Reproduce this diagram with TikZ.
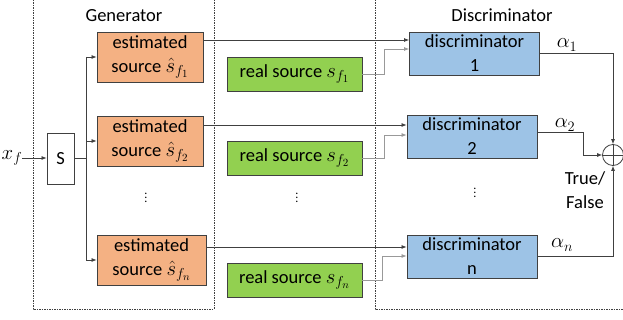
\documentclass[tikz,border=0pt]{standalone}
\usepackage{fontspec}
\setmainfont{Carlito}
\usetikzlibrary{arrows.meta}
\definecolor{ofill}{HTML}{F4B183}
\definecolor{gfill}{HTML}{92D050}
\definecolor{bfill}{HTML}{9DC3E6}
\definecolor{lcol}{HTML}{404040}
\newcommand{\mathbig}[1]{{\fontsize{21}{24}\selectfont$#1$}}
\begin{document}
\begin{tikzpicture}[x=1pt,y=-1pt,
  font=\fontsize{18.5}{24}\selectfont,
  box/.style={draw=lcol, line width=0.9pt, align=center, inner sep=0pt},
  obox/.style={box, fill=ofill, minimum width=106pt, minimum height=50pt},
  gbox/.style={box, fill=gfill, minimum width=135pt, minimum height=34pt},
  dbox/.style={box, fill=bfill, minimum width=130pt, minimum height=43pt},
  arr/.style={-{Latex[length=5pt,width=4pt]}, draw=lcol, line width=0.7pt},
  larr/.style={arr, draw=gray!80},
  grp/.style={draw=lcol, line width=0.6pt, dash pattern=on 1.5pt off 1pt},
  lbl/.style={inner sep=0pt}]
\useasboundingbox (0,0) rectangle (623,320);
% group frames
\draw[grp] (33,-5) rectangle (214,309);
\draw[grp] (375,-5) rectangle (630,309);
\node[lbl] (gen) at (124,16) {Generator};
\node[lbl] (dis) at (502,15) {Discriminator};
% input and splitter
\node[lbl] (x) at (12,158) {\mathbig{x_f}};
\node[box, minimum width=27pt, minimum height=51pt] (S) at (60.5,158.5) {S};
\coordinate (sp) at (86,158);
% estimated sources
\node[obox] (e1) at (150,57) {estimated\\source \mathbig{\hat{s}_{f_1}}};
\node[obox] (e2) at (150,141) {estimated\\source \mathbig{\hat{s}_{f_2}}};
\node[obox, minimum width=109pt] (en) at (151.5,260) {estimated\\source \mathbig{\hat{s}_{f_n}}};
% real sources
\node[gbox] (r1) at (294.5,74) {real source \mathbig{s_{f_1}}};
\node[gbox] (r2) at (294.5,158) {real source \mathbig{s_{f_2}}};
\node[gbox] (rn) at (294.5,280) {real source \mathbig{s_{f_n}}};
% discriminators
\node[dbox] (d1) at (474.5,53.5) {discriminator\\1};
\node[dbox] (d2) at (472,136.5) {discriminator\\2};
\node[dbox] (dn) at (472,256.5) {discriminator\\n};
% dots
\node[lbl, font=\fontsize{12}{14}\selectfont] (v1) at (146,195) {$\vdots$};
\node[lbl, font=\fontsize{12}{14}\selectfont] (v2) at (297,195) {$\vdots$};
\node[lbl, font=\fontsize{12}{14}\selectfont] (v3) at (475,190) {$\vdots$};
% sum
\node[draw=lcol, line width=0.8pt, circle, minimum size=21pt, inner sep=0pt] (sum) at (613,155) {};
\draw[lcol, line width=0.8pt] (sum.north) -- (sum.south) (sum.west) -- (sum.east);
% connections: input
\draw[arr] (x) -- (S.west |- x);
\draw[draw=lcol, line width=0.7pt] (S.east |- sp) -- (sp);
\draw[draw=lcol, line width=0.7pt] (sp |- e1.west) -- (sp |- en.west);
\draw[arr] (sp |- e1.west) -- (e1.west);
\draw[arr] (sp |- e2.west) -- (e2.west);
\draw[arr] (sp |- en.west) -- (en.west);
% estimated -> discriminators
\draw[arr] (e1.east |- 0,40) -- (d1.west |- 0,40);
\draw[arr] (e2.east |- 0,125) -- (d2.west |- 0,125);
\draw[arr] (en.east |- 0,247) -- (dn.west |- 0,247);
% real -> discriminators
\draw[larr] (r1.east) -| (384,49) -- (d1.west |- 0,49);
\draw[larr] (r2.east) -| (384,135) -- (d2.west |- 0,135);
\draw[larr] (rn.east) -| (382,256) -- (dn.west |- 0,256);
% discriminators -> sum
\draw[arr] (d1.east) -| (sum.north);
\draw[arr] (d2.east |- 0,132) -- (583,132) |- (sum.west);
\draw[arr] (dn.east) -| (sum.south);
% labels
\node[lbl] (a1) at (567,45) {\mathbig{\alpha_1}};
\node[lbl] (a2) at (565,125) {\mathbig{\alpha_2}};
\node[lbl] (an) at (562,245) {\mathbig{\alpha_n}};
\node[lbl, align=center] (tf) at (585,190) {True/\\False};
\end{tikzpicture}
\end{document}
